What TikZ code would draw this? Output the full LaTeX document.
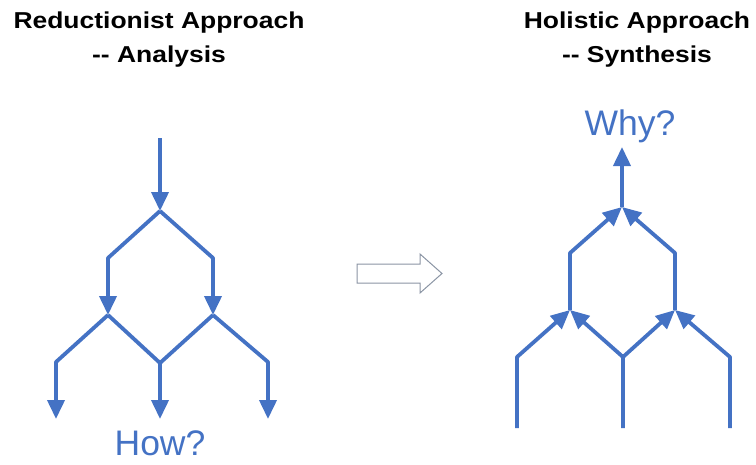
\documentclass[tikz,border=0pt]{standalone}
\usepackage{fontspec}
\setmainfont{Liberation Sans}
\newfontfamily\headfont[FakeStretch=1.15]{Liberation Sans}
\usetikzlibrary{arrows.meta}
\definecolor{flowblue}{HTML}{4472C4}
\definecolor{outlinegray}{HTML}{8A94A3}
\tikzset{
  flow/.style={draw=flowblue,line width=3.8pt,line join=round},
  flowarrow/.style={flow,-{Triangle[length=19pt,width=17pt]}},
  heading/.style={font=\headfont\fontsize{23}{34}\selectfont\bfseries,align=center,inner sep=0pt},
  question/.style={text=flowblue,font=\fontsize{35.5}{40}\selectfont,inner sep=0pt},
}
\begin{document}
\begin{tikzpicture}[x=1pt,y=-1pt]
\useasboundingbox (0,0) rectangle (756,464);

% headings
\node[heading,anchor=base] (redtitle) at (159,62) {Reductionist Approach\\-{}- Analysis};
\node[heading,anchor=base] (holtitle) at (637,62) {Holistic Approach\\-{}- Synthesis};

% reductionist tree, top down
\coordinate (rs) at (160,138);
\coordinate (rt) at (160,211);
\coordinate (rlb) at (108,258);
\coordinate (rrb) at (213,258);
\coordinate (rl) at (108,315);
\coordinate (rr) at (213,315);
\coordinate (rll) at (56,362);
\coordinate (rm) at (160,363);
\coordinate (rrr) at (268,362);
\coordinate (re1) at (56,419);
\coordinate (re2) at (160,419);
\coordinate (re3) at (268,419);
\draw[flowarrow] (rs) -- (rt);
\draw[flowarrow] (rt) -- (rlb) -- (rl);
\draw[flowarrow] (rt) -- (rrb) -- (rr);
\draw[flowarrow] (rl) -- (rll) -- (re1);
\draw[flowarrow] (rl) -- (rm) -- (re2);
\draw[flow] (rr) -- (rm);
\draw[flowarrow] (rr) -- (rrr) -- (re3);
\node[question,anchor=base] (how) at (160,455) {How?};

% open arrow in between
\draw[outlinegray,line width=1pt,line join=miter]
  (357,264) -- (420,264) -- (420,254) -- (442,273.5) -- (420,293) -- (420,283) -- (357,283) -- cycle;

% holistic tree, bottom up
\coordinate (hf1) at (517,428);
\coordinate (hf2) at (623,428);
\coordinate (hf3) at (730,428);
\coordinate (hp1) at (517,357);
\coordinate (hq) at (623,357);
\coordinate (hp3) at (730,357);
\coordinate (ha) at (570,310);
\coordinate (hb) at (675,310);
\coordinate (ha1) at (570,253);
\coordinate (hb1) at (675,253);
\coordinate (ht) at (622,207);
\coordinate (hs) at (622,147);
\draw[flowarrow] (hf1) -- (hp1) -- (ha);
\draw[flowarrow] (hf2) -- (hq) -- (ha);
\draw[flowarrow] (hq) -- (hb);
\draw[flowarrow] (hf3) -- (hp3) -- (hb);
\draw[flowarrow] (ha) -- (ha1) -- (ht);
\draw[flowarrow] (hb) -- (hb1) -- (ht);
\draw[flowarrow] (ht) -- (hs);
\node[question,anchor=base] (why) at (630,135) {Why?};
\end{tikzpicture}
\end{document}
